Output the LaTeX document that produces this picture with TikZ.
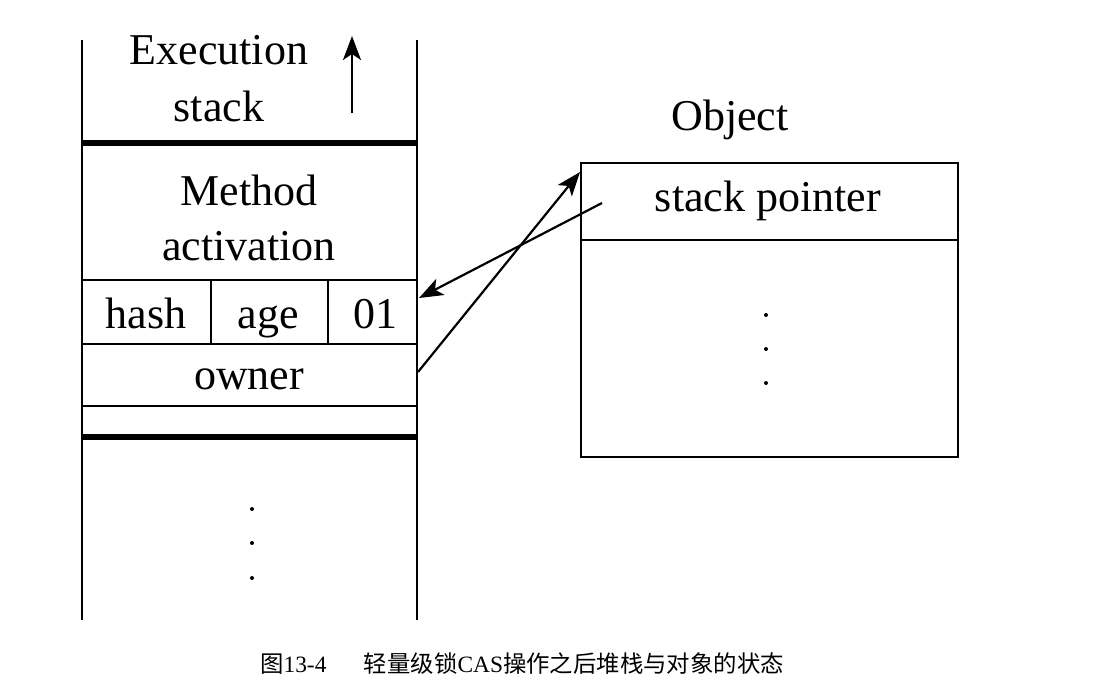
\documentclass[tikz,border=0pt]{standalone}
\usepackage{fontspec}
\setmainfont{Liberation Serif}
\newfontfamily\cjk{Noto Sans CJK SC}
\usetikzlibrary{arrows.meta}

\begin{document}
\begin{tikzpicture}[x=0.5pt,y=-0.5pt,font=\fontsize{22}{24}\selectfont,
  thin line/.style={line width=1pt},
  thick line/.style={line width=3pt},
  ptr/.style={line width=1.1pt,-{Stealth[length=12pt,width=9pt,inset=3pt]}},
  dot/.style={circle,fill,inner sep=0pt,minimum size=2pt}]
\useasboundingbox (0,0) rectangle (1094,693);

% execution stack
\draw[thin line] (82,40) -- (82,620);
\draw[thin line] (417,40) -- (417,620);
\draw[thick line] (82,143) -- (417,143);
\draw[thin line] (82,280) -- (417,280);
\draw[thin line] (82,344) -- (417,344);
\draw[thin line] (82,406) -- (417,406);
\draw[thick line] (82,437) -- (417,437);
\draw[thin line] (211,280) -- (211,344);
\draw[thin line] (328,280) -- (328,344);

\node[anchor=center] (exec) at (219,50) {Execution};
\node[anchor=center] (stk) at (219,106) {stack};
\coordinate (grow0) at (352,113);
\coordinate (grow1) at (352,36);
\path[draw,ptr] (grow0) -- (grow1);

\node[anchor=center] (meth) at (249,190) {Method};
\node[anchor=center] (act) at (249,246) {activation};
\node[anchor=base] (hash) at (146,328) {hash};
\node[anchor=base] (age) at (268,328) {age};
\node[anchor=base] (bits) at (375,328) {01};
\node[anchor=base] (owner) at (249,389) {owner};

\node[dot] (d1) at (252,509) {};
\node[dot] (d2) at (252,543) {};
\node[dot] (d3) at (252,578) {};

% object
\node[anchor=center] (objlbl) at (730,120) {Object};
\draw[thin line] (581,163) rectangle (958,457);
\draw[thin line] (581,240) -- (958,240);
\node[anchor=center] (sp) at (768,201) {stack pointer};
\node[dot] (e1) at (766,315) {};
\node[dot] (e2) at (766,349) {};
\node[dot] (e3) at (766,383) {};

% pointers
\coordinate (spfrom) at (602,203);
\coordinate (mark) at (419,298);
\coordinate (ownfrom) at (418,372);
\coordinate (objtop) at (580,172);
\path[draw,ptr] (spfrom) -- (mark);
\path[draw,ptr] (ownfrom) -- (objtop);

\node[anchor=center,font=\fontsize{11.7}{13}\selectfont] (cap) at (522,664)
  {{\cjk 图}13-4\hspace{1.6em}{\cjk 轻量级锁}CAS{\cjk 操作之后堆栈与对象的状态}};
\end{tikzpicture}
\end{document}
